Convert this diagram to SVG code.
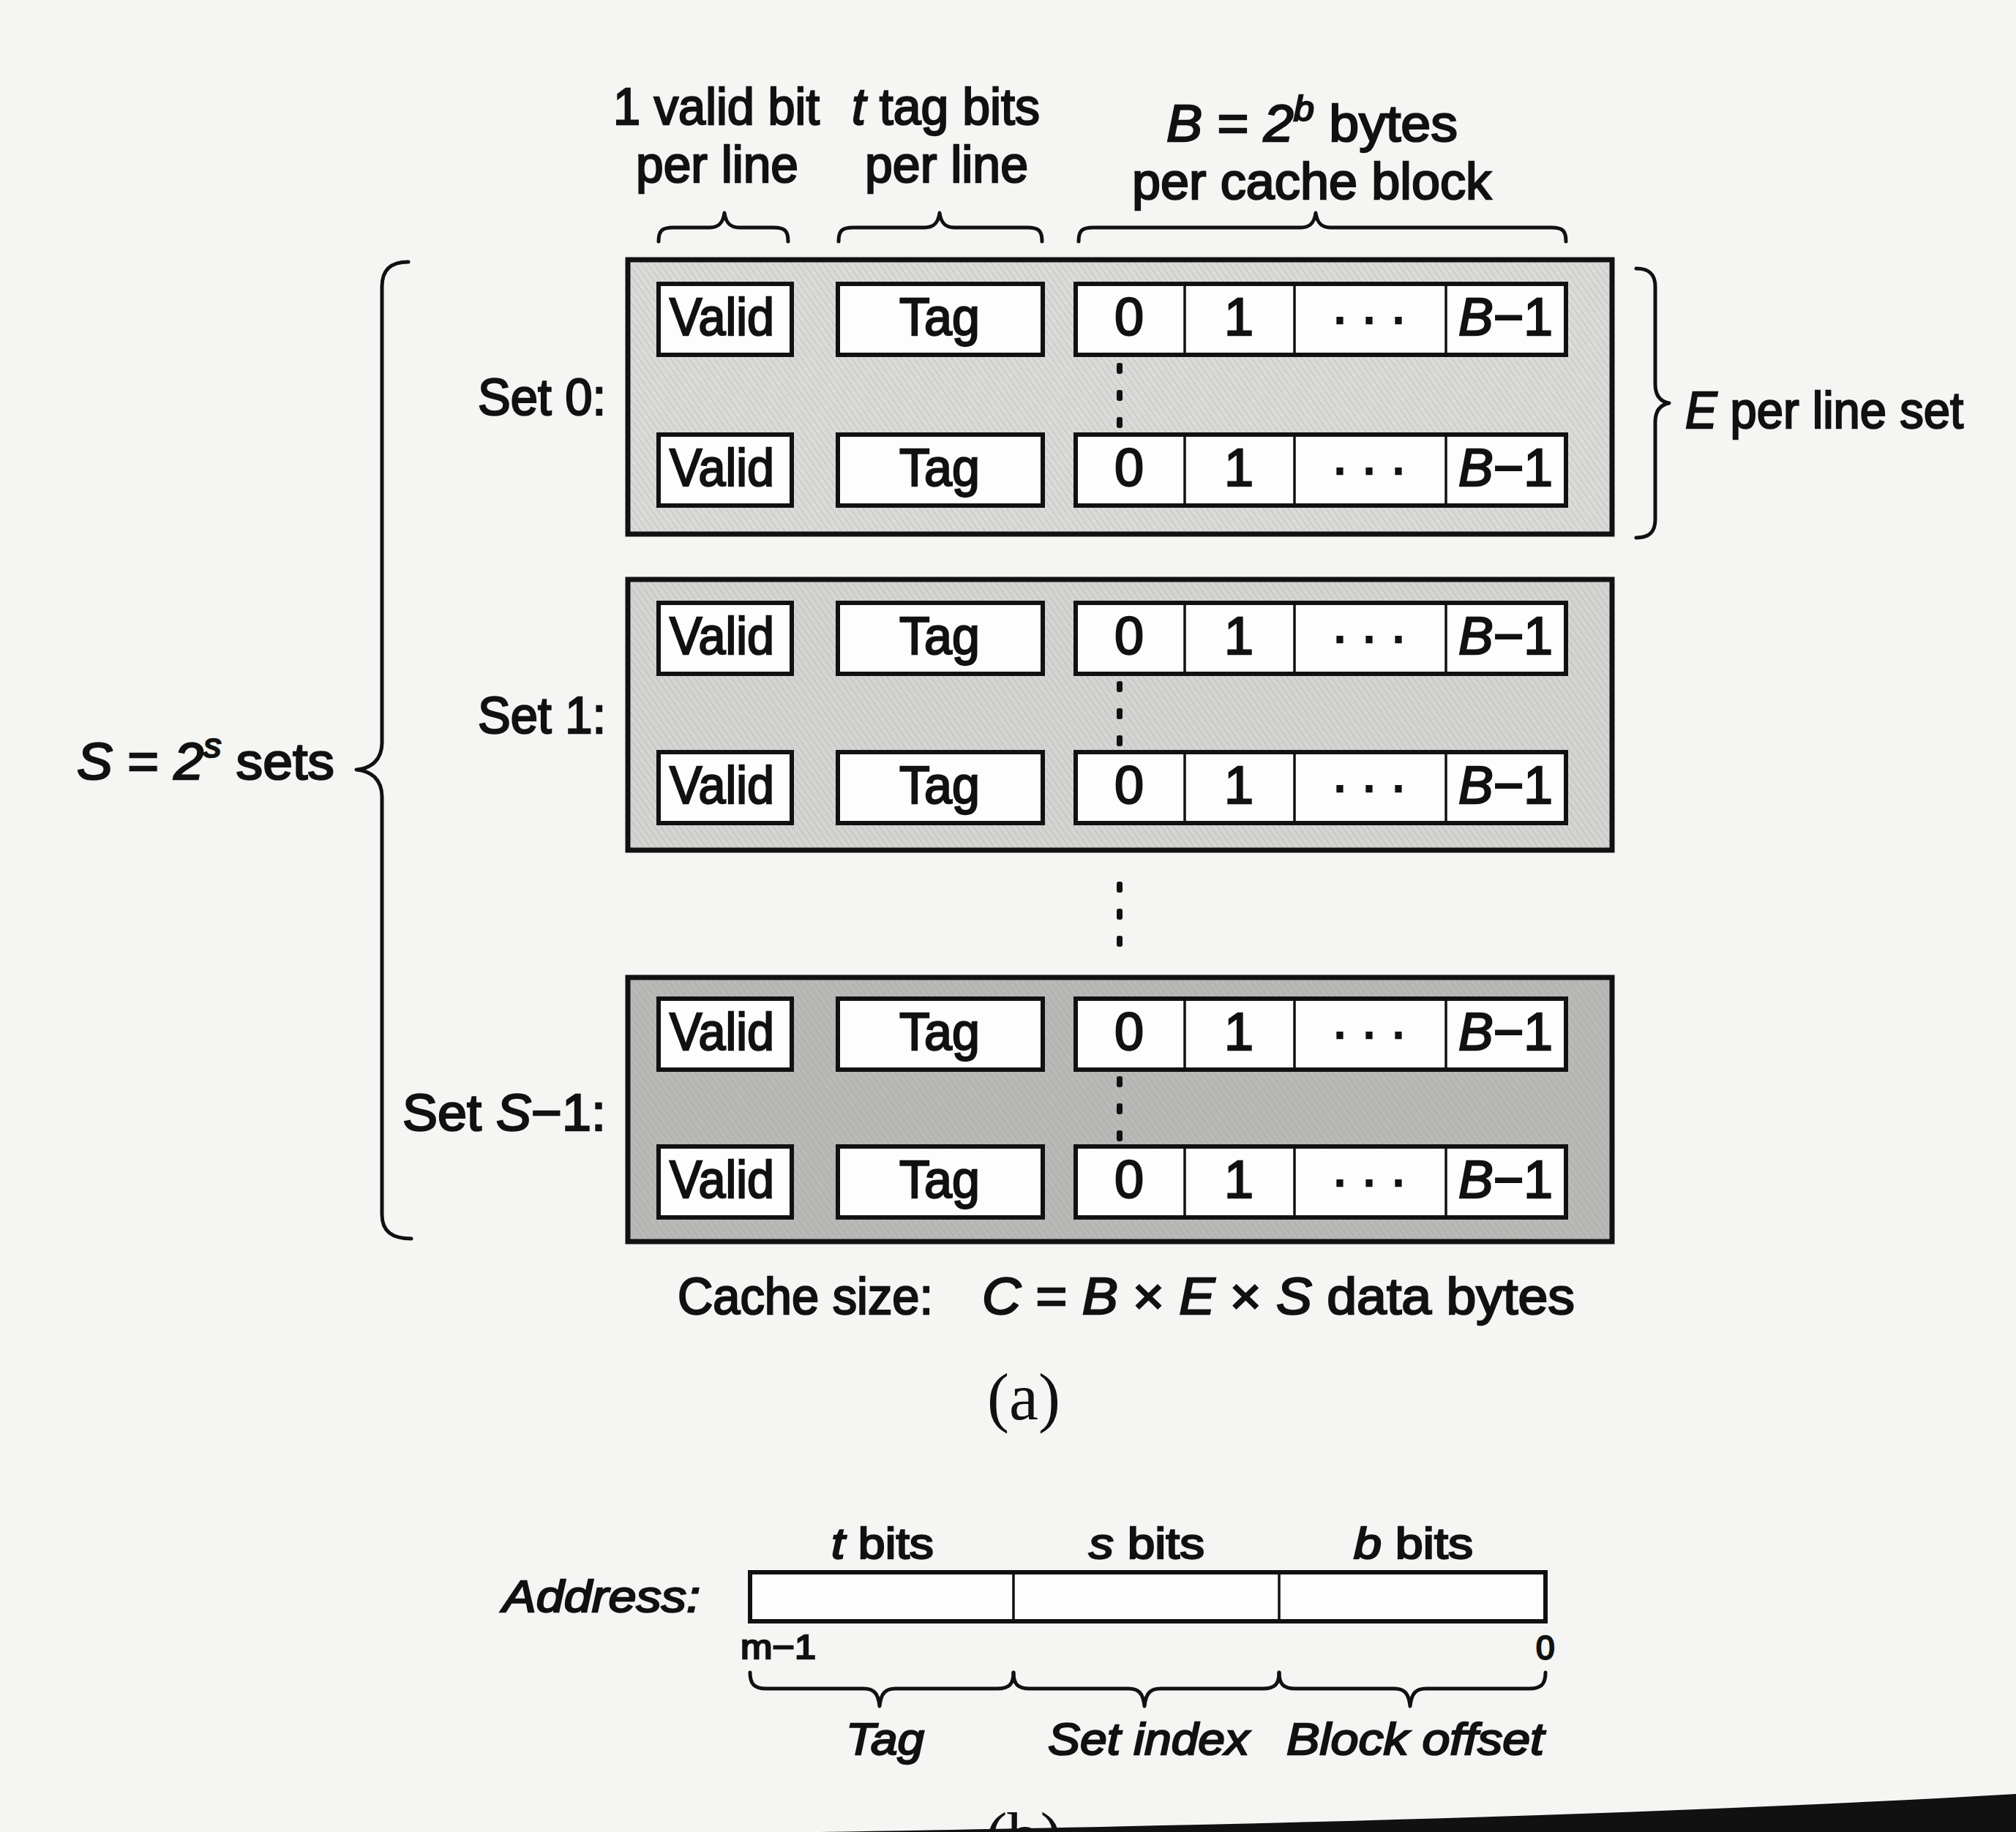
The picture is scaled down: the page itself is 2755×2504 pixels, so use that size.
<svg xmlns="http://www.w3.org/2000/svg" width="2755" height="2504" viewBox="0 0 2755 2504">
<defs>
<style>
.t{font-family:"Liberation Sans",Arial,Helvetica,sans-serif;fill:#111;stroke:#111;stroke-width:2.4;}
.m{font-size:70px;}
.bx{font-size:72px;}
.sm{font-size:60px;}
.i{font-style:italic;}
.set{stroke:#111;stroke-width:7;}
.ln{fill:#fdfdfd;stroke:#111;stroke-width:6;}
.dv{stroke:#111;stroke-width:3.5;fill:none;}
.br{fill:none;stroke:#111;stroke-width:5;stroke-linecap:round;stroke-linejoin:round;}
.dot{fill:#111;}
</style>
<pattern id="hatch" width="7" height="7" patternUnits="userSpaceOnUse" patternTransform="rotate(-35)">
<rect width="7" height="7" fill="none"/>
<line x1="0" y1="0" x2="0" y2="7" stroke="#8a8a8a" stroke-width="1.4" stroke-opacity="0.45"/>
</pattern>
<g id="row">
<rect class="ln" x="900" y="0" width="182" height="97"/>
<rect class="ln" x="1145" y="0" width="280" height="97"/>
<rect class="ln" x="1470" y="0" width="670" height="97"/>
<line class="dv" x1="1619" y1="0" x2="1619" y2="97"/>
<line class="dv" x1="1769" y1="0" x2="1769" y2="97"/>
<line class="dv" x1="1976" y1="0" x2="1976" y2="97"/>
<text class="t bx" x="915" y="70" textLength="143" lengthAdjust="spacingAndGlyphs">Valid</text>
<text class="t bx" x="1229" y="70" textLength="110" lengthAdjust="spacingAndGlyphs">Tag</text>
<text class="t bx" x="1543" y="70" text-anchor="middle">0</text>
<text class="t bx" x="1693" y="70" text-anchor="middle">1</text>
<text class="t bx" x="1819" y="70" letter-spacing="16">···</text>
<text class="t bx" x="1993" y="70" textLength="129" lengthAdjust="spacingAndGlyphs"><tspan class="i">B</tspan>−1</text>
</g>
<g id="vdots">
<rect class="dot" x="1526" y="-7" width="8" height="15" rx="3"/>
<rect class="dot" x="1526" y="30" width="8" height="15" rx="3"/>
<rect class="dot" x="1526" y="67" width="8" height="15" rx="3"/>
</g>
</defs>
<rect width="2755" height="2504" fill="#f5f5f3"/>

<g id="headers">
<text class="t m" x="838" y="170" textLength="282" lengthAdjust="spacingAndGlyphs">1 valid bit</text>
<text class="t m" x="869" y="249" textLength="222" lengthAdjust="spacingAndGlyphs">per line</text>
<text class="t m" x="1164" y="170" textLength="257" lengthAdjust="spacingAndGlyphs"><tspan class="i">t</tspan> tag bits</text>
<text class="t m" x="1182" y="249" textLength="223" lengthAdjust="spacingAndGlyphs">per line</text>
<text class="t m" x="1594" y="193" textLength="398" lengthAdjust="spacingAndGlyphs"><tspan class="i">B</tspan> = <tspan class="i">2</tspan><tspan class="i" font-size="48" dy="-28">b</tspan><tspan dy="28"> bytes</tspan></text>
<text class="t m" x="1547" y="272" textLength="491" lengthAdjust="spacingAndGlyphs">per cache block</text>
</g>

<g id="set0">
<rect class="set" x="858" y="355" width="1345" height="375" fill="#dadad8"/>
<rect x="862" y="359" width="1337" height="367" fill="url(#hatch)"/>
<use href="#row" y="388"/>
<use href="#row" y="594"/>
<use href="#vdots" y="503"/>
<text class="t m" x="653" y="567" textLength="175" lengthAdjust="spacingAndGlyphs">Set 0:</text>
</g>

<g id="set1">
<rect class="set" x="858" y="792" width="1345" height="370" fill="#d4d4d2"/>
<rect x="862" y="796" width="1337" height="362" fill="url(#hatch)"/>
<use href="#row" y="824"/>
<use href="#row" y="1028"/>
<use href="#vdots" y="938"/>
<text class="t m" x="653" y="1002" textLength="175" lengthAdjust="spacingAndGlyphs">Set 1:</text>
</g>

<g id="between">
<use href="#vdots" y="1212"/>
</g>

<g id="setS1">
<rect class="set" x="858" y="1336" width="1345" height="361" fill="#b9b9b7"/>
<rect x="862" y="1340" width="1337" height="353" fill="url(#hatch)"/>
<use href="#row" y="1365"/>
<use href="#row" y="1567"/>
<use href="#vdots" y="1478"/>
<text class="t m" x="550" y="1545" textLength="278" lengthAdjust="spacingAndGlyphs">Set <tspan class="i">S</tspan>−1:</text>
</g>

<g id="connectors">
<path class="br" d="M900,330 C900,315 905,311 920,311 L970,311 C982,311 988,305 990,291 C992,305 998,311 1010,311 L1057,311 C1072,311 1077,315 1077,330"/>
<path class="br" d="M1146,330 C1146,315 1151,311 1166,311 L1264,311 C1276,311 1282,305 1284,291 C1286,305 1292,311 1304,311 L1404,311 C1419,311 1424,315 1424,330"/>
<path class="br" d="M1474,330 C1474,315 1479,311 1494,311 L1778,311 C1790,311 1796,305 1798,291 C1800,305 1806,311 1818,311 L2120,311 C2135,311 2140,315 2140,330"/>
<path class="br" stroke-width="6" d="M558,358 C535,358 522,368 522,392 L522,1015 C522,1038 508,1050 487,1052 C508,1054 522,1066 522,1089 L522,1660 C522,1684 537,1693 562,1693"/>
<path class="br" d="M2236,367 C2254,367 2262,375 2262,392 L2262,525 C2262,542 2270,549 2281,551 C2270,553 2262,560 2262,577 L2262,710 C2262,727 2254,735 2236,735"/>
<path class="br" d="M1025,2286 C1025,2302 1031,2308 1047,2308 L1180,2308 C1194,2308 1200,2314 1202,2332 C1204,2314 1210,2308 1224,2308 L1363,2308 C1379,2308 1385,2302 1385,2286"/>
<path class="br" d="M1385,2286 C1385,2302 1391,2308 1407,2308 L1542,2308 C1556,2308 1562,2314 1564,2332 C1566,2314 1572,2308 1586,2308 L1726,2308 C1742,2308 1748,2302 1748,2286"/>
<path class="br" d="M1748,2286 C1748,2302 1754,2308 1770,2308 L1905,2308 C1919,2308 1925,2314 1927,2332 C1929,2314 1935,2308 1949,2308 L2090,2308 C2106,2308 2112,2302 2112,2286"/>
</g>

<g id="labels">
<text class="t m" x="2303" y="585" textLength="380" lengthAdjust="spacingAndGlyphs"><tspan class="i">E</tspan> per line set</text>
<text class="t m" x="105" y="1065" textLength="352" lengthAdjust="spacingAndGlyphs"><tspan class="i">S</tspan> = <tspan class="i">2</tspan><tspan class="i" font-size="46" dy="-30">s</tspan><tspan dy="30"> sets</tspan></text>
<text class="t m" x="926" y="1796" textLength="349" lengthAdjust="spacingAndGlyphs">Cache size:</text>
<text class="t m" x="1342" y="1796" textLength="810" lengthAdjust="spacingAndGlyphs"><tspan class="i">C</tspan> = <tspan class="i">B</tspan> × <tspan class="i">E</tspan> × <tspan class="i">S</tspan> data bytes</text>
<text x="1399" y="1940" text-anchor="middle" font-family="'Liberation Serif','Times New Roman',serif" font-size="90" fill="#111">(a)</text>
</g>

<g id="address">
<text class="t i" font-size="62" x="687" y="2203" textLength="270" lengthAdjust="spacingAndGlyphs">Address:</text>
<text class="t sm" x="1136" y="2130" textLength="140" lengthAdjust="spacingAndGlyphs"><tspan class="i">t</tspan> bits</text>
<text class="t sm" x="1488" y="2130" textLength="158" lengthAdjust="spacingAndGlyphs"><tspan class="i">s</tspan> bits</text>
<text class="t sm" x="1850" y="2130" textLength="163" lengthAdjust="spacingAndGlyphs"><tspan class="i">b</tspan> bits</text>
<rect x="1025" y="2149" width="1087" height="67" fill="#fdfdfd" stroke="#111" stroke-width="6"/>
<line class="dv" x1="1385" y1="2149" x2="1385" y2="2216"/>
<line class="dv" x1="1748" y1="2149" x2="1748" y2="2216"/>
<text class="t" font-size="46" x="1012" y="2267" textLength="103" lengthAdjust="spacingAndGlyphs">m−1</text>
<text class="t" font-size="46" x="2099" y="2268">0</text>
<text class="t i" font-size="62" x="1156" y="2398" textLength="107" lengthAdjust="spacingAndGlyphs">Tag</text>
<text class="t i" font-size="62" x="1432" y="2398" textLength="275" lengthAdjust="spacingAndGlyphs">Set index</text>
<text class="t i" font-size="62" x="1758" y="2398" textLength="352" lengthAdjust="spacingAndGlyphs">Block offset</text>
</g>

<g id="page-edge">
<text x="1399" y="2540" text-anchor="middle" font-family="'Liberation Serif','Times New Roman',serif" font-size="90" fill="#111">(b)</text>
<path d="M1120,2504 C1600,2496 2200,2484 2755,2452 L2755,2504 Z" fill="#111"/>
</g>
</svg>
